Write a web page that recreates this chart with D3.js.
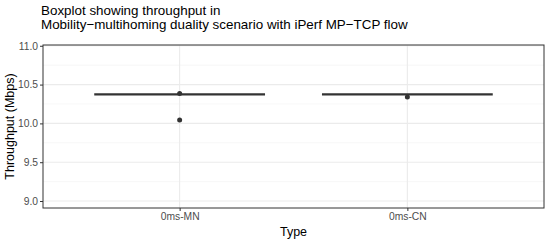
<!DOCTYPE html>
<html>
<head>
<meta charset="utf-8">
<script src="https://cdn.jsdelivr.net/npm/d3@7.9.0/dist/d3.min.js"></script>
<style>
  body { margin: 0; background: #fff; }
  text { font-family: "Liberation Sans", Arial, sans-serif; }
</style>
</head>
<body>
<svg width="550" height="241"></svg>
<script>
// data
const types = ['0ms-MN', '0ms-CN'];
const medians = [10.375, 10.375];
const q1s = [10.375, 10.375];
const q3s = [10.375, 10.375];
const pointsMN = [10.385, 10.045];
const pointsCN = [10.34];
const yTicks = [9.0, 9.5, 10.0, 10.5, 11.0];
const yMinor = [9.25, 9.75, 10.25, 10.75];

const svg = d3.select('svg');
const panel = { left: 43, right: 544, top: 45, bottom: 208 };

let x = d3.scalePoint().domain(types).range([panel.left, panel.right]).padding(0.6);
let y = d3.scaleLinear().domain([8.91, 11.01]).range([panel.bottom, panel.top]);
let boxW = x.step() * 0.75;

// minor grid
svg.append('g').selectAll('line').data(yMinor).join('line')
  .attr('x1', panel.left).attr('x2', panel.right)
  .attr('y1', d => y(d)).attr('y2', d => y(d))
  .attr('stroke', '#f3f3f3').attr('stroke-width', 0.7);

// major grid
svg.append('g').selectAll('line').data(yTicks).join('line')
  .attr('x1', panel.left).attr('x2', panel.right)
  .attr('y1', d => y(d)).attr('y2', d => y(d))
  .attr('stroke', '#ebebeb').attr('stroke-width', 1.1);
svg.append('g').selectAll('line').data(types).join('line')
  .attr('x1', d => x(d)).attr('x2', d => x(d))
  .attr('y1', panel.top).attr('y2', panel.bottom)
  .attr('stroke', '#ebebeb').attr('stroke-width', 1.1);

// boxes (degenerate, just the median bar)
types.forEach((t, i) => {
  svg.append('rect')
    .attr('x', x(t) - boxW / 2).attr('width', boxW)
    .attr('y', y(q3s[i])).attr('height', y(q1s[i]) - y(q3s[i]))
    .attr('fill', '#fff').attr('stroke', '#333').attr('stroke-width', 0.5);
  svg.append('line')
    .attr('x1', x(t) - boxW / 2).attr('x2', x(t) + boxW / 2)
    .attr('y1', y(medians[i])).attr('y2', y(medians[i]))
    .attr('stroke', '#333').attr('stroke-width', 2.2);
});

// points
let pts = pointsMN.map(v => ({ t: '0ms-MN', v })).concat(pointsCN.map(v => ({ t: '0ms-CN', v })));
svg.append('g').selectAll('circle').data(pts).join('circle')
  .attr('cx', d => x(d.t)).attr('cy', d => y(d.v)).attr('r', 2.5)
  .attr('fill', '#333');

// panel border
svg.append('rect')
  .attr('x', panel.left).attr('y', panel.top)
  .attr('width', panel.right - panel.left).attr('height', panel.bottom - panel.top)
  .attr('fill', 'none').attr('stroke', '#333').attr('stroke-width', 1);

// axes
let yAxis = svg.append('g').attr('transform', `translate(${panel.left},0)`)
  .call(d3.axisLeft(y).tickValues(yTicks).tickFormat(d3.format('.1f')).tickSize(3).tickPadding(2));
let xAxis = svg.append('g').attr('transform', `translate(0,${panel.bottom})`)
  .call(d3.axisBottom(x).tickSize(3).tickPadding(2));
[yAxis, xAxis].forEach(a => {
  a.select('.domain').remove();
  a.selectAll('.tick line').attr('stroke', '#333');
  a.selectAll('.tick text').attr('fill', '#4d4d4d').style('font-size', '10.3px');
});

// titles
svg.append('text').attr('x', 41).attr('y', 14.5).style('font-size', '13.4px').attr('fill', '#000')
  .text('Boxplot showing throughput in');
svg.append('text').attr('x', 41).attr('y', 28.5).style('font-size', '13.4px').attr('fill', '#000')
  .text('Mobility\u2212multihoming duality scenario with iPerf MP\u2212TCP flow');
svg.append('text').attr('x', (panel.left + panel.right) / 2).attr('y', 236)
  .attr('text-anchor', 'middle').style('font-size', '12.5px').text('Type');
svg.append('text')
  .attr('transform', `translate(14,${(panel.top + panel.bottom) / 2}) rotate(-90)`)
  .attr('text-anchor', 'middle').style('font-size', '12.5px').text('Throughput (Mbps)');
</script>
</body>
</html>
